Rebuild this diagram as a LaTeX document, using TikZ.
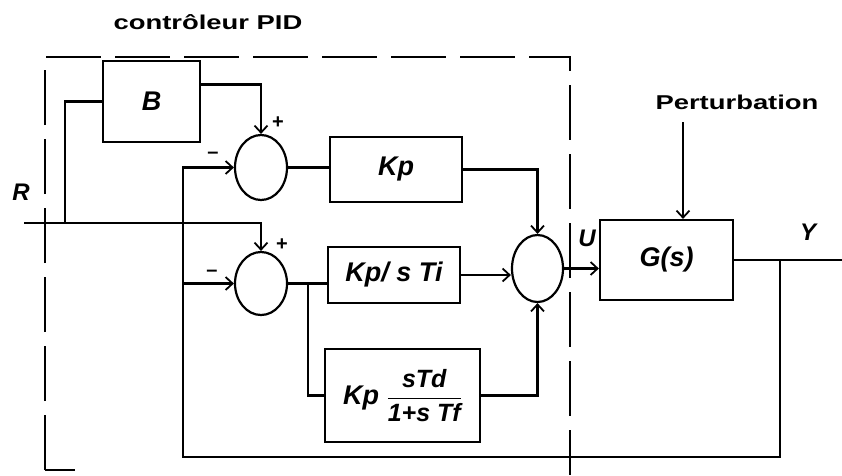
\documentclass[tikz,border=0pt]{standalone}
\usepackage{fontspec}
\setmainfont{Liberation Sans}
\usetikzlibrary{arrows.meta,shapes.geometric}
\tikzset{
  wire/.style={line width=2.2pt},
  arr/.style={wire,-{Straight Barb[length=7pt,width=13pt,line width=1.8pt]}},
  blk/.style={draw,line width=2.2pt,rectangle,inner sep=0pt,font=\fontsize{27}{30}\selectfont\bfseries\itshape},
  sumj/.style={draw,line width=2.2pt,ellipse,inner sep=0pt},
  lab/.style={font=\fontsize{24}{28}\selectfont\bfseries\itshape,inner sep=0pt},
  sgn/.style={font=\fontsize{20}{22}\selectfont\bfseries,inner sep=0pt},
  ttl/.style={font=\fontsize{20}{24}\selectfont\bfseries,inner sep=0pt},
  dbox/.style={line width=2.4pt,dash pattern=on 55pt off 14pt}
}
\begin{document}
\begin{tikzpicture}[x=1pt,y=-1pt]
\useasboundingbox (0,0) rectangle (842,475);
% title and dashed box
\node[ttl] (title) at (208,22) {\scalebox{1.37}[1]{contrôleur PID}};
\coordinate (d1) at (75,470);
\coordinate (d2) at (45,470);
\coordinate (d3) at (45,57);
\coordinate (d4) at (570,57);
\coordinate (d5) at (570,475);
\draw[dbox] (d2) -- (d3) -- (d4) -- (d5);
\draw[dbox] (d2) -- (d1);
% blocks
\node[blk,minimum width=97pt,minimum height=81pt] (B) at (151.5,101.5) {B};
\node[blk,minimum width=132pt,minimum height=65pt] (Kp) at (396,169.5) {Kp};
\node[blk,minimum width=132pt,minimum height=56pt] (KpI) at (394,275) {Kp/ s Ti};
\node[blk,minimum width=155pt,minimum height=93pt] (Kd) at (402.5,395.5)
  {Kp {\fontsize{25}{28}\selectfont$\displaystyle\frac{\mbox{sTd}}{\mbox{1+s Tf}}$}};
\node[blk,minimum width=133pt,minimum height=80pt] (G) at (666.5,260) {G(s)};
% summing junctions
\node[sumj,minimum width=52pt,minimum height=65pt] (s1) at (261,167.5) {};
\node[sumj,minimum width=52pt,minimum height=63pt] (s2) at (261,283.5) {};
\node[sumj,minimum width=51pt,minimum height=67pt] (s3) at (537.5,268.5) {};
% labels
\node[lab] (R) at (21,192) {R};
\node[lab] (U) at (587,238) {U};
\node[lab] (Y) at (808,232) {Y};
\node[ttl] (pert) at (737,102) {\scalebox{1.37}[1]{Perturbation}};
\node[sgn] (p1) at (278,123) {+};
\node[sgn] (m1) at (213,155) {--};
\node[sgn] (p2) at (282,245) {+};
\node[sgn] (m2) at (212,273) {--};
% coordinates
\coordinate (rin) at (24,223);
\coordinate (rb) at (65,223);
\coordinate (fbL) at (183,457);
\coordinate (fbR) at (780,457);
\coordinate (yb) at (780,260);
\coordinate (yout) at (842,260);
\coordinate (br) at (308,283.5);
\coordinate (ptop) at (683,122);
% connectors
\draw[arr] (rin) -| (s2.north);
\draw[wire] (rb) |- (B.west);
\draw[arr] ([yshift=17pt]B.east) -| (s1.north);
\draw[wire] (s1.east) -- (s1.east -| Kp.west);
\draw[arr] (Kp.east) -| (s3.north);
\draw[wire] (s2.east) -- (s2.east -| KpI.west);
\draw[wire] (br) |- (Kd.west);
\draw[arr] (KpI.east) -- (KpI.east -| s3.west);
\draw[arr] (Kd.east) -| (s3.south);
\draw[arr] (s3.east) -- (s3.east -| G.west);
\draw[arr] (ptop) -- (ptop |- G.north);
\draw[wire] (G.east) -- (yout);
\draw[arr] (yb) |- (fbL) |- (s1.west);
\draw[arr] (fbL |- s2.west) -- (s2.west);
\end{tikzpicture}
\end{document}
